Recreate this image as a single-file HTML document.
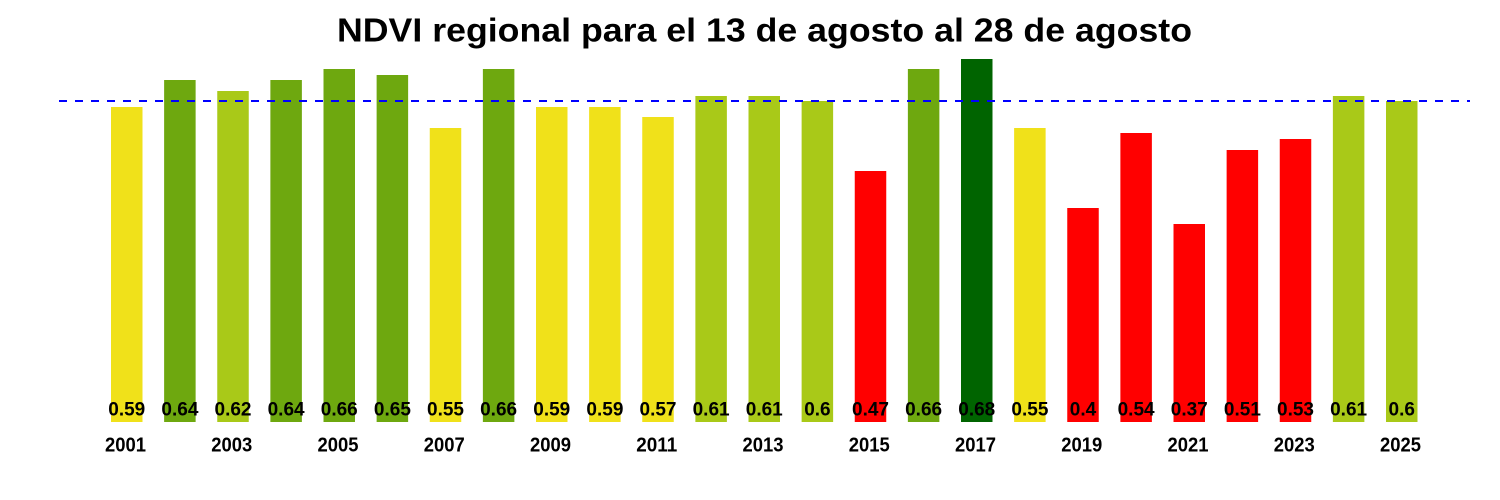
<!DOCTYPE html>
<html>
<head>
<meta charset="utf-8">
<style>
  html, body { margin:0; padding:0; background:#ffffff; }
  svg { display:block; }
  text { font-family: "Liberation Sans", Arial, sans-serif; font-weight: bold; fill:#000; }
</style>
</head>
<body>
<svg width="1500" height="500" viewBox="0 0 1500 500" xmlns="http://www.w3.org/2000/svg">
  <rect x="0" y="0" width="1500" height="500" fill="#ffffff"/>
  <text x="337" y="41.5" font-size="33" textLength="855" lengthAdjust="spacingAndGlyphs">NDVI regional para el 13 de agosto al 28 de agosto</text>

  <g id="bars">
    <rect x="111.0"   y="107" width="31.5" height="315" fill="#F0E11A"/>
    <rect x="164.125" y="80"  width="31.5" height="342" fill="#6EA80F"/>
    <rect x="217.25"  y="91"  width="31.5" height="331" fill="#A9C918"/>
    <rect x="270.375" y="80"  width="31.5" height="342" fill="#6EA80F"/>
    <rect x="323.5"   y="69"  width="31.5" height="353" fill="#6EA80F"/>
    <rect x="376.625" y="75"  width="31.5" height="347" fill="#6EA80F"/>
    <rect x="429.75"  y="128" width="31.5" height="294" fill="#F0E11A"/>
    <rect x="482.875" y="69"  width="31.5" height="353" fill="#6EA80F"/>
    <rect x="536.0"   y="107" width="31.5" height="315" fill="#F0E11A"/>
    <rect x="589.125" y="107" width="31.5" height="315" fill="#F0E11A"/>
    <rect x="642.25"  y="117" width="31.5" height="305" fill="#F0E11A"/>
    <rect x="695.375" y="96"  width="31.5" height="326" fill="#A9C918"/>
    <rect x="748.5"   y="96"  width="31.5" height="326" fill="#A9C918"/>
    <rect x="801.625" y="101" width="31.5" height="321" fill="#A9C918"/>
    <rect x="854.75"  y="171" width="31.5" height="251" fill="#FF0000"/>
    <rect x="907.875" y="69"  width="31.5" height="353" fill="#6EA80F"/>
    <rect x="961.0"   y="59"  width="31.5" height="363" fill="#006400"/>
    <rect x="1014.125" y="128" width="31.5" height="294" fill="#F0E11A"/>
    <rect x="1067.25" y="208" width="31.5" height="214" fill="#FF0000"/>
    <rect x="1120.375" y="133" width="31.5" height="289" fill="#FF0000"/>
    <rect x="1173.5"  y="224" width="31.5" height="198" fill="#FF0000"/>
    <rect x="1226.625" y="150" width="31.5" height="272" fill="#FF0000"/>
    <rect x="1279.75" y="139" width="31.5" height="283" fill="#FF0000"/>
    <rect x="1332.875" y="96" width="31.5" height="326" fill="#A9C918"/>
    <rect x="1386.0"  y="101" width="31.5" height="321" fill="#A9C918"/>
  </g>

  <line x1="59" y1="101" x2="1470" y2="101" stroke="#0000FF" stroke-width="2" stroke-dasharray="8 8"/>

  <g font-size="19" text-anchor="middle">
    <text x="126.75" y="415.5">0.59</text>
    <text x="179.9" y="415.5">0.64</text>
    <text x="233.0" y="415.5">0.62</text>
    <text x="286.1" y="415.5">0.64</text>
    <text x="339.25" y="415.5">0.66</text>
    <text x="392.4" y="415.5">0.65</text>
    <text x="445.5" y="415.5">0.55</text>
    <text x="498.6" y="415.5">0.66</text>
    <text x="551.75" y="415.5">0.59</text>
    <text x="604.9" y="415.5">0.59</text>
    <text x="658.0" y="415.5">0.57</text>
    <text x="711.1" y="415.5">0.61</text>
    <text x="764.25" y="415.5">0.61</text>
    <text x="817.4" y="415.5">0.6</text>
    <text x="870.5" y="415.5">0.47</text>
    <text x="923.6" y="415.5">0.66</text>
    <text x="976.75" y="415.5">0.68</text>
    <text x="1029.9" y="415.5">0.55</text>
    <text x="1083.0" y="415.5">0.4</text>
    <text x="1136.1" y="415.5">0.54</text>
    <text x="1189.25" y="415.5">0.37</text>
    <text x="1242.4" y="415.5">0.51</text>
    <text x="1295.5" y="415.5">0.53</text>
    <text x="1348.6" y="415.5">0.61</text>
    <text x="1401.75" y="415.5">0.6</text>
  </g>

  <g font-size="20">
    <text x="105" y="451.5" textLength="41" lengthAdjust="spacingAndGlyphs">2001</text>
    <text x="211.25" y="451.5" textLength="41" lengthAdjust="spacingAndGlyphs">2003</text>
    <text x="317.5" y="451.5" textLength="41" lengthAdjust="spacingAndGlyphs">2005</text>
    <text x="423.75" y="451.5" textLength="41" lengthAdjust="spacingAndGlyphs">2007</text>
    <text x="530.0" y="451.5" textLength="41" lengthAdjust="spacingAndGlyphs">2009</text>
    <text x="636.25" y="451.5" textLength="41" lengthAdjust="spacingAndGlyphs">2011</text>
    <text x="742.5" y="451.5" textLength="41" lengthAdjust="spacingAndGlyphs">2013</text>
    <text x="848.75" y="451.5" textLength="41" lengthAdjust="spacingAndGlyphs">2015</text>
    <text x="955.0" y="451.5" textLength="41" lengthAdjust="spacingAndGlyphs">2017</text>
    <text x="1061.25" y="451.5" textLength="41" lengthAdjust="spacingAndGlyphs">2019</text>
    <text x="1167.5" y="451.5" textLength="41" lengthAdjust="spacingAndGlyphs">2021</text>
    <text x="1273.75" y="451.5" textLength="41" lengthAdjust="spacingAndGlyphs">2023</text>
    <text x="1380.0" y="451.5" textLength="41" lengthAdjust="spacingAndGlyphs">2025</text>
  </g>
</svg>
</body>
</html>
